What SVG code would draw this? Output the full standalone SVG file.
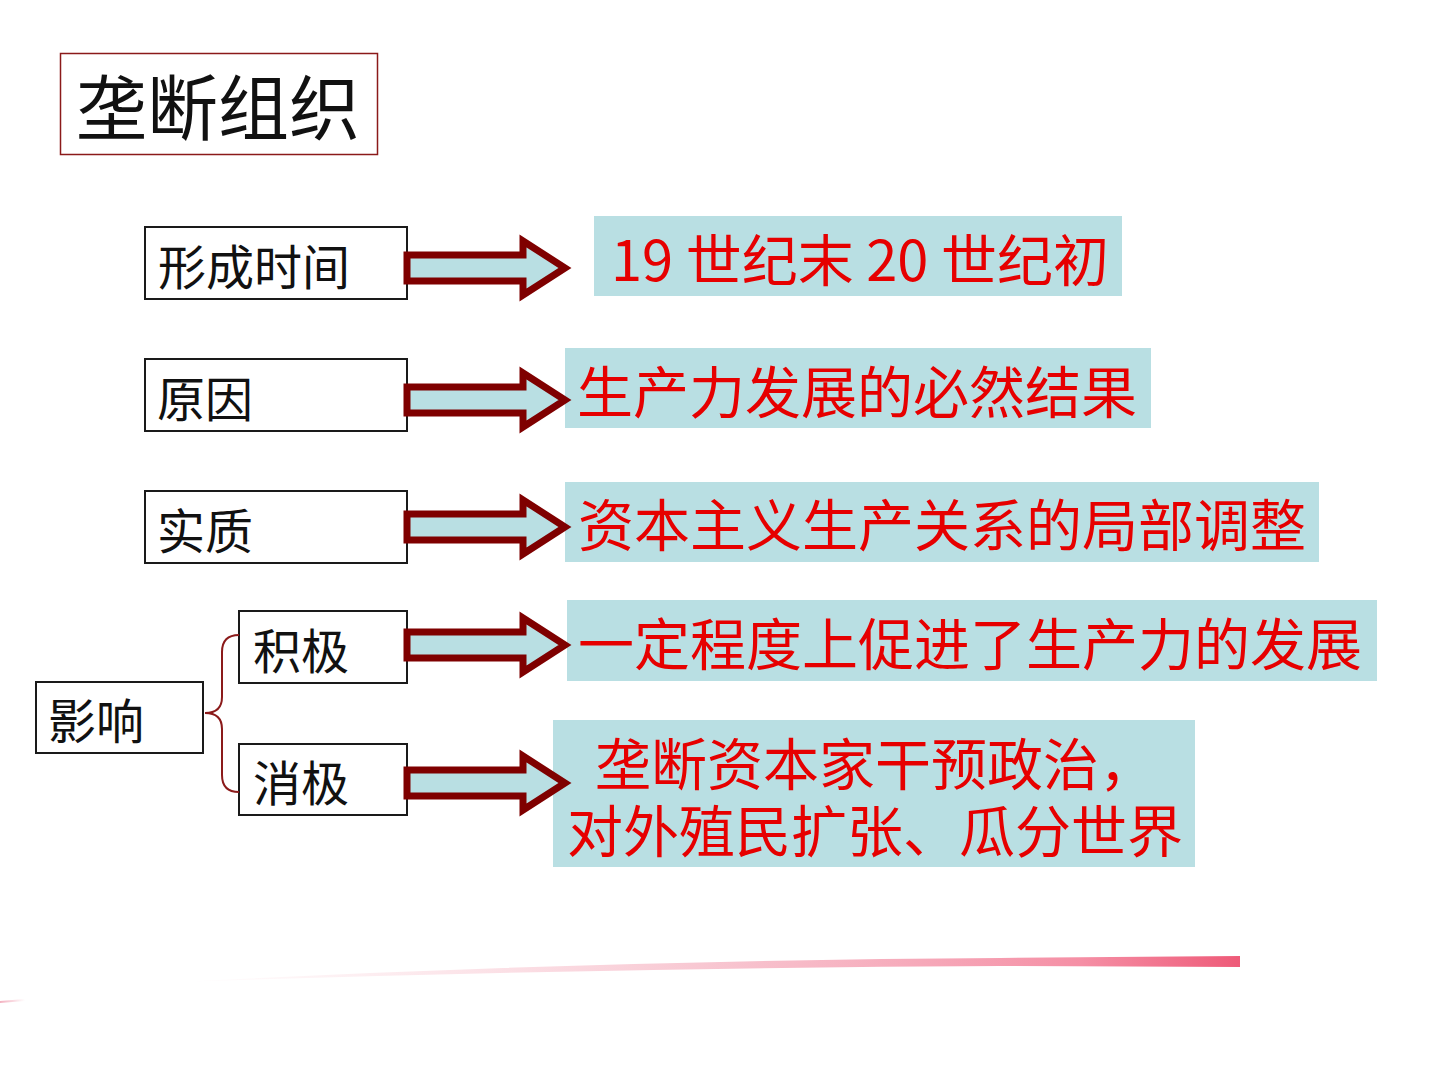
<svg xmlns="http://www.w3.org/2000/svg" width="1440" height="1080" viewBox="0 0 1440 1080">
<defs>
<style>
.lbl{fill:#fff;stroke:#1a1a1a;stroke-width:2}
.lt{font-family:"Noto Sans CJK SC","Liberation Sans",sans-serif;font-size:48px;fill:#111}
.ans{fill:#b9dfe3}
.at{font-family:"Noto Sans CJK SC","Liberation Sans",sans-serif;font-size:56px;fill:#e60000}
.arr{fill:#b9dfe3;stroke:#7f0000;stroke-width:7;stroke-linejoin:miter}
</style>
<linearGradient id="sw" x1="180" y1="0" x2="1240" y2="0" gradientUnits="userSpaceOnUse">
<stop offset="0" stop-color="#f7b7c4" stop-opacity="0"/>
<stop offset="0.5" stop-color="#f3a0b2" stop-opacity="0.6"/>
<stop offset="0.85" stop-color="#f58fa5"/>
<stop offset="1" stop-color="#ee5a78"/>
</linearGradient>
<linearGradient id="sw2" x1="0" y1="0" x2="25" y2="0" gradientUnits="userSpaceOnUse">
<stop offset="0" stop-color="#f3b0bf"/>
<stop offset="1" stop-color="#f3b0bf" stop-opacity="0"/>
</linearGradient>
</defs>
<rect width="1440" height="1080" fill="#fff"/>

<g id="title">
<rect x="60.5" y="53.5" width="317" height="101" fill="#fff" stroke="#8b1a1a" stroke-width="1.5"/>
<text x="76" y="134" font-family="Noto Sans CJK SC,Liberation Sans,sans-serif" font-size="71" fill="#111">垄断组织</text>
</g>

<g id="n-time"><rect class="lbl" x="145" y="227" width="262" height="72"/><text class="lt" x="158" y="285">形成时间</text></g>
<g id="n-cause"><rect class="lbl" x="145" y="359" width="262" height="72"/><text class="lt" x="157" y="417">原因</text></g>
<g id="n-nature"><rect class="lbl" x="145" y="491" width="262" height="72"/><text class="lt" x="157" y="549">实质</text></g>
<g id="n-impact"><rect class="lbl" x="36" y="682" width="167" height="71"/><text class="lt" x="48" y="739">影响</text></g>
<g id="n-pos"><rect class="lbl" x="239" y="611" width="168" height="72"/><text class="lt" x="253" y="669">积极</text></g>
<g id="n-neg"><rect class="lbl" x="239" y="744" width="168" height="71"/><text class="lt" x="253" y="801">消极</text></g>

<g id="a-time"><rect class="ans" x="594" y="216" width="528" height="80"/><text class="at" x="611" y="281" font-size="50">19 世纪末 20 世纪初</text></g>
<g id="a-cause"><rect class="ans" x="565" y="348" width="586" height="80"/><text class="at" x="577" y="413">生产力发展的必然结果</text></g>
<g id="a-nature"><rect class="ans" x="565" y="482" width="754" height="80"/><text class="at" x="578" y="546">资本主义生产关系的局部调整</text></g>
<g id="a-pos"><rect class="ans" x="567" y="600" width="810" height="81"/><text class="at" x="578" y="665">一定程度上促进了生产力的发展</text></g>
<g id="a-neg"><rect class="ans" x="553" y="720" width="642" height="147"/><text class="at" x="595" y="785">垄断资本家干预政治，</text><text class="at" x="567" y="852">对外殖民扩张、瓜分世界</text></g>

<g id="connectors">
<path d="M239,635 Q222,635 222,652 L222,697 Q222,713 205,713 Q222,713 222,729 L222,775 Q222,792 239,792" fill="none" stroke="#8b1a1a" stroke-width="2"/>
<path class="arr" d="M407,255 L523,255 L523,241 L565,268 L523,295 L523,281 L407,281 Z"/>
<path class="arr" d="M407,387 L523,387 L523,373 L565,400 L523,427 L523,413 L407,413 Z"/>
<path class="arr" d="M407,514 L523,514 L523,500 L565,527 L523,554 L523,540 L407,540 Z"/>
<path class="arr" d="M407,632 L523,632 L523,618 L565,645 L523,672 L523,658 L407,658 Z"/>
<path class="arr" d="M407,770 L523,770 L523,756 L565,783 L523,810 L523,796 L407,796 Z"/>
</g>

<g id="decor">
<path d="M180,982 Q600,960 1000,958 L1240,956 L1240,967 L1000,966 Q600,968 180,982 Z" fill="url(#sw)"/>
<path d="M0,1001 L25,999 L25,1001 L0,1003 Z" fill="url(#sw2)"/>
</g>
</svg>
